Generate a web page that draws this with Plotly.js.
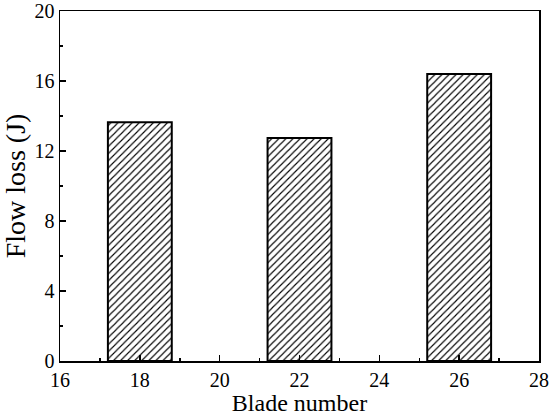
<!DOCTYPE html>
<html>
<head>
<meta charset="utf-8">
<script src="https://cdn.plot.ly/plotly-3.0.1.min.js"></script>
<style>
  body { margin: 0; background: #fff; }
  #chart { width: 550px; height: 416px; }
</style>
</head>
<body>
<div id="chart"></div>
<script>
// blade number vs flow loss
const bladeNumbers = [18, 22, 26];
const flowLoss = [13.65, 12.75, 16.4];
const xTicks = [16, 18, 20, 22, 24, 26, 28];
const yTicks = [0, 4, 8, 12, 16, 20];

const font = "Liberation Serif";

const trace = {
  type: "bar",
  x: bladeNumbers,
  y: flowLoss,
  width: 1.6,
  marker: {
    color: "#fff",
    line: { color: "#000", width: 2 },
    pattern: { shape: "/", fgcolor: "#000", bgcolor: "#fff", size: 5, solidity: 0.22 }
  },
  hoverinfo: "none"
};

const axisBase = {
  showgrid: false,
  zeroline: false,
  showline: true,
  linecolor: "#000",
  linewidth: 1.5,
  mirror: true,
  ticks: "inside",
  ticklen: 6,
  tickwidth: 1.5,
  tickcolor: "#000",
  ticklabeloverflow: "allow",
  tickfont: { family: font, size: 20, color: "#000" }
};

const layout = {
  width: 550,
  height: 416,
  margin: { l: 60, r: 11, t: 11, b: 55 },
  paper_bgcolor: "#fff",
  plot_bgcolor: "#fff",
  showlegend: false,
  font: { family: font, color: "#000" },
  xaxis: Object.assign({}, axisBase, {
    range: [16, 28],
    tickvals: xTicks,
    minor: { dtick: 1, tick0: 16, ticks: "inside", ticklen: 3, tickwidth: 1.5, tickcolor: "#000" },
    title: { text: "Blade number", font: { family: font, size: 24, color: "#000" }, standoff: 1 }
  }),
  yaxis: Object.assign({}, axisBase, {
    range: [0, 20],
    tickvals: yTicks,
    minor: { dtick: 2, tick0: 0, ticks: "inside", ticklen: 3, tickwidth: 1.5, tickcolor: "#000" },
    title: { text: "Flow loss (J)", font: { family: font, size: 28, color: "#000" }, standoff: 2 }
  })
};

Plotly.newPlot("chart", [trace], layout, { displayModeBar: false, staticPlot: true });
</script>
</body>
</html>
